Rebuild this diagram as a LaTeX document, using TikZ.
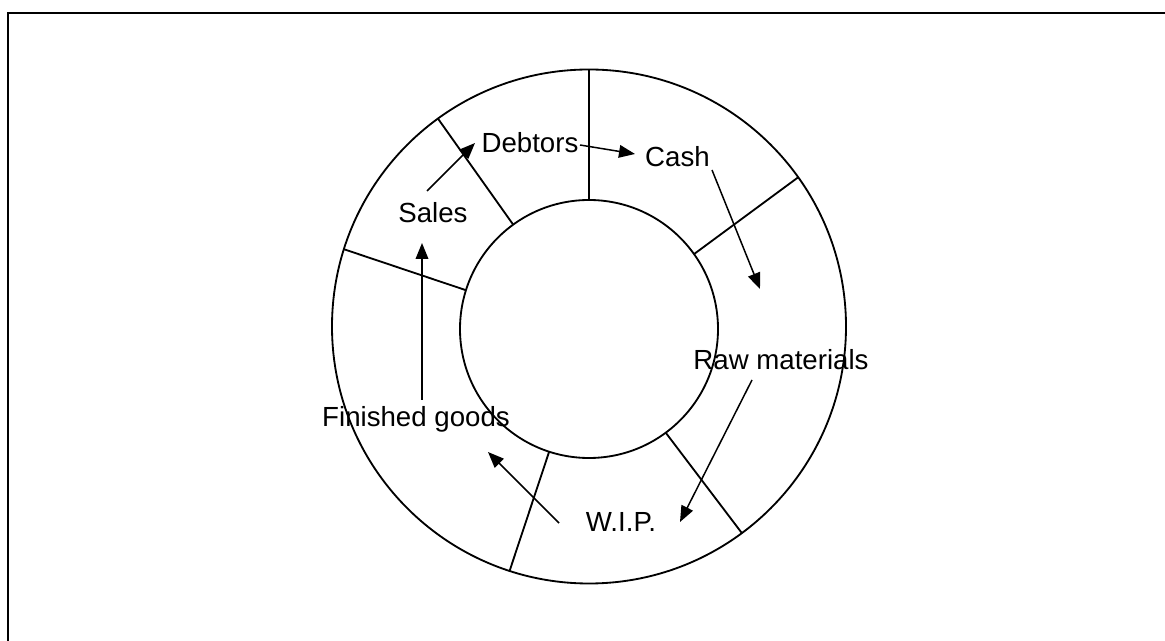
\documentclass[tikz,border=0pt]{standalone}
\usepackage{fontspec}
\setmainfont{Liberation Sans}
\usetikzlibrary{arrows.meta,calc}
\begin{document}
\begin{tikzpicture}[x=0.03cm,y=0.03cm,
  ring/.style={line width=0.055cm},
  divider/.style={line width=0.055cm},
  flow/.style={line width=0.045cm,-{Triangle[length=0.48cm,width=0.38cm]}},
  lbl/.style={anchor=base,inner sep=0pt,font=\fontsize{23.6}{28}\selectfont}]
\useasboundingbox (0,0) rectangle (1165,641);
% frame
\draw[line width=0.075cm] (8,-5) -- (8,628) -- (1170,628);
% ring
\coordinate (oc) at (589,314.5);
\coordinate (ic) at (589,312);
\draw[ring] (oc) circle[radius=257];
\draw[ring] (ic) circle[radius=129];
% dividers
\foreach \a in {90,126,162.5,35.5,-53.5,-108}{
  \draw[divider] ($(ic)+(\a:129)$) -- ($(oc)+(\a:257)$);
}
% labels
\node[lbl] (debtors) at (530,488) {Debtors};
\node[lbl] (cash) at (677.5,474) {Cash};
\node[lbl] (sales) at (433,418) {Sales};
\node[lbl] (raw) at (781,271) {Raw materials};
\node[lbl] (fg) at (416,214) {Finished goods};
\node[lbl] (wip) at (621,109) {W.I.P.};
% arrow end points
\coordinate (s1) at (427,450); \coordinate (s2) at (475,498);
\coordinate (d1) at (580,496); \coordinate (d2) at (635,487);
\coordinate (c1) at (712,471); \coordinate (c2) at (760,352);
\coordinate (r1) at (752,261); \coordinate (r2) at (680,119);
\coordinate (w1) at (559,118); \coordinate (w2) at (488,189);
\coordinate (f1) at (422,241); \coordinate (f2) at (422,398);
\draw[flow] (s1) -- (s2);
\draw[flow] (d1) -- (d2);
\draw[flow] (c1) -- (c2);
\draw[flow] (r1) -- (r2);
\draw[flow] (w1) -- (w2);
\draw[flow] (f1) -- (f2);
\end{tikzpicture}
\end{document}
